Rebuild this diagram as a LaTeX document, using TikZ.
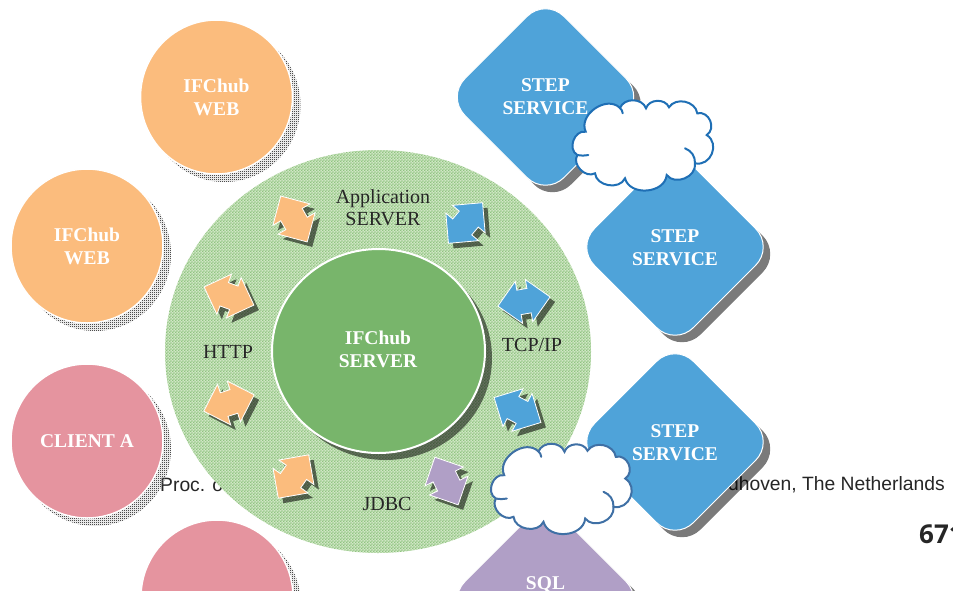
\documentclass[tikz,border=0pt]{standalone}
\usepackage{fontspec}
\setmainfont{Liberation Serif}
\newfontfamily\footfont{Liberation Sans}
\newfontfamily\pagefont{Open Sans}
\usetikzlibrary{positioning,shadows,patterns,shapes.arrows,shapes.geometric}

\definecolor{webc}{HTML}{FBBC7D}
\definecolor{clientc}{HTML}{E5949F}
\definecolor{stepc}{HTML}{4FA3D9}
\definecolor{sqlc}{HTML}{B09FC6}
\definecolor{serverc}{HTML}{78B56B}
\definecolor{ringlight}{HTML}{D0E6C5}
\definecolor{ringdark}{HTML}{8FC480}
\definecolor{cloudA}{HTML}{1F6FB5}
\definecolor{cloudB}{HTML}{3F70A5}

\pgfdeclarepatternformonly{ringdots}{\pgfqpoint{0pt}{0pt}}{\pgfqpoint{3.2pt}{3.2pt}}{\pgfqpoint{3.2pt}{3.2pt}}{
  \pgfpathrectangle{\pgfqpoint{0pt}{0pt}}{\pgfqpoint{1.6pt}{1.6pt}}
  \pgfpathrectangle{\pgfqpoint{1.6pt}{1.6pt}}{\pgfqpoint{1.6pt}{1.6pt}}
  \pgfusepath{fill}}
\pgfdeclarepatternformonly{laydots}{\pgfqpoint{0pt}{0pt}}{\pgfqpoint{2pt}{2pt}}{\pgfqpoint{2pt}{2pt}}{
  \pgfpathrectangle{\pgfqpoint{0pt}{0pt}}{\pgfqpoint{1.3pt}{1.3pt}}
  \pgfpathrectangle{\pgfqpoint{1pt}{1pt}}{\pgfqpoint{1pt}{1pt}}
  \pgfusepath{fill}}

\tikzset{
  lay/.style={general shadow={shadow xshift=7pt,shadow yshift=-7pt,fill=black,opacity=.52}},
  dotlay/.style={general shadow={shadow xshift=8pt,shadow yshift=-8pt,pattern=laydots,pattern color=black!70}},
  planet/.style={ellipse,draw=white,line width=1.5pt,minimum width=152pt,minimum height=154pt,inner sep=0,dotlay},
  stepbox/.style={rectangle,draw=white,line width=1pt,rounded corners=26pt,minimum size=140pt,inner sep=0,rotate=45,lay},
  swap/.style={double arrow,draw=white,line width=.8pt,minimum height=53pt,minimum width=0pt,
    double arrow head extend=9pt,inner xsep=0pt,inner ysep=12pt,
    general shadow={shadow xshift=5pt,shadow yshift=-5pt,fill=black,opacity=.55}},
  whitelabel/.style={text=white,align=center,font=\fontsize{19.5}{23}\selectfont\bfseries},
  blacklabel/.style={text=black!85,align=center,font=\fontsize{20}{22}\selectfont},
  cloudline/.style={fill=white,line width=2pt,line cap=round},
  cloudpic/.pic={
    \draw[cloudline,pic actions] (-58.3,-13.3)
      to[bend left=80,looseness=1.15] (-24,-37)
      to[bend left=70,looseness=1.1] (2,-36.7)
      to[bend left=70,looseness=1.1] (25,-37.7)
      to[bend left=70,looseness=1.1] (53.3,-31.7)
      to[bend left=80,looseness=1.3] (62.7,-10)
      to[bend left=80,looseness=1.35] (51,18.3)
      to[bend left=75,looseness=1.15] (22.7,30)
      to[bend left=80,looseness=1.15] (-19,33.3)
      to[bend left=75,looseness=1.1] (-49,28.3)
      to[bend left=75,looseness=1.1] (-66.7,10)
      to[bend left=80,looseness=1.2] cycle;
    \draw[line width=2pt,line cap=round,pic actions,fill=none]
      (-24,-37) to[bend left=20] (-21.3,-31.7)
      (51,18.3) to[bend right=35] (41,3.3)
      (-66.7,10) to[bend right=10] (-55.7,10);
  }
}

\begin{document}
\begin{tikzpicture}[x=1pt,y=-1pt]
\useasboundingbox (0,0) rectangle (953,590);

% footer line lies under everything
\node[anchor=west,font=\footfont\fontsize{19.3}{21}\selectfont,text=black!85,inner sep=0] (procleft) at (160,484.5) {Proc. o};
\node[anchor=east,font=\footfont\fontsize{19.3}{21}\selectfont,text=black!85,inner sep=0] (procright) at (945,484.5) {ndhoven, The Netherlands};
\node[anchor=west,font=\pagefont\bfseries\fontsize{26}{28}\selectfont,text=black!85,inner sep=0] (pagenum) at (919,534) {671};

% outer machines
\begin{scope}[every node/.style={planet}]
    \node[fill=webc] (webA) at (216.5,97) {};
    \node[fill=webc] (webB) at (87,246) {};
    \node[fill=clientc] (clientA) at (87,441) {};
    \node[fill=clientc] (clientB) at (217,597) {};
\end{scope}

\begin{scope}[every node/.style={stepbox}]
    \node[fill=stepc] (stepA) at (545.5,97) {};
    \node[fill=stepc] (stepB) at (675,247) {};
    \node[fill=stepc] (stepC) at (675,442) {};
    \node[fill=sqlc] (sqlA) at (545.5,600) {};
\end{scope}

% ring and centre
\node[ellipse,minimum width=426pt,minimum height=403pt,inner sep=0,preaction={fill=ringlight},
      pattern=ringdots,pattern color=ringdark] (ring) at (378,351.5) {};
\node[ellipse,fill=serverc,draw=white,line width=2pt,minimum width=213pt,minimum height=204pt,inner sep=0,lay] (server) at (378.5,351) {};

\begin{scope}[every node/.style={swap}]
    \node[fill=webc,rotate=-60] (swapA) at (294,219) {};
    \node[fill=webc,rotate=-20] (swapB) at (229,296) {};
    \node[fill=webc,rotate=18] (swapC) at (229,403) {};
    \node[fill=webc,rotate=55] (swapD) at (293.5,476.5) {};
    \node[fill=sqlc,rotate=-64] (swapE) at (446.5,481) {};
    \node[fill=stepc,rotate=-28] (swapF) at (517.5,410) {};
    \node[fill=stepc,rotate=10] (swapG) at (524,301.5) {};
    \node[fill=stepc,rotate=50] (swapH) at (465.5,223) {};
\end{scope}

\pic[draw=cloudA] (cloudone) at (644,145) {cloudpic};
\pic[draw=cloudB] (cloudtwo) at (562.5,488.5) {cloudpic};

\begin{scope}[every node/.style={whitelabel}]
    \node at (webA) {IFChub\\WEB};
    \node at (webB) {IFChub\\WEB};
    \node at (clientA) {CLIENT A};
    \node at (545.5,96.5) {STEP\\SERVICE};
    \node at (675,247.5) {STEP\\SERVICE};
    \node at (675,442.5) {STEP\\SERVICE};
    \node at (545.5,585) {SQL};
    \node at (378,349) {IFChub\\SERVER};
\end{scope}

\begin{scope}[every node/.style={blacklabel}]
    \node at (383,208) {Application\\SERVER};
    \node at (228,352) {HTTP};
    \node at (532,345) {TCP/IP};
    \node at (387,504) {JDBC};
\end{scope}
\end{tikzpicture}
\end{document}
